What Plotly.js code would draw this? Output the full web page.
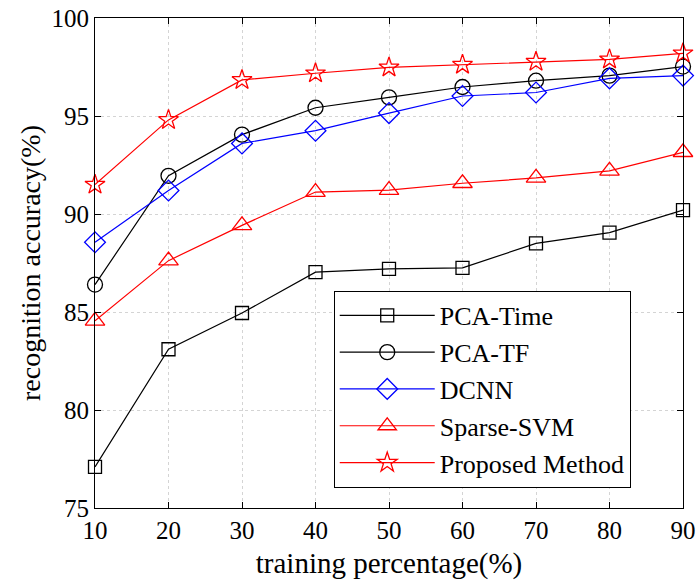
<!DOCTYPE html>
<html>
<head>
<meta charset="utf-8">
<script src="https://cdn.plot.ly/plotly-3.0.1.min.js"></script>
<style>html,body{margin:0;padding:0;background:#fff;}#chart{width:697px;height:580px;}</style>
</head>
<body>
<div id="chart"></div>
<script>
const trainingPct = [10, 20, 30, 40, 50, 60, 70, 80, 90];
const pcaTime   = [77.1, 83.1, 84.95, 87.03, 87.2, 87.25, 88.5, 89.05, 90.2];
const pcaTF     = [86.4, 91.95, 94.05, 95.42, 95.95, 96.48, 96.8, 97.06, 97.52];
const dcnn      = [88.56, 91.2, 93.6, 94.25, 95.15, 96.02, 96.2, 96.92, 97.06];
const sparseSVM = [84.55, 87.62, 89.42, 91.12, 91.22, 91.57, 91.84, 92.2, 93.15];
const proposed  = [91.5, 94.8, 96.84, 97.18, 97.48, 97.62, 97.77, 97.89, 98.2];
const seriesNames = ["PCA-Time", "PCA-TF", "DCNN", "Sparse-SVM", "Proposed Method"];
const xTicks = [10, 20, 30, 40, 50, 60, 70, 80, 90];
const yTicks = [75, 80, 85, 90, 95, 100];

const mk = (y, name, color, symbol, size) => ({
  x: trainingPct, y: y, name: name, type: 'scatter', mode: 'lines+markers',
  cliponaxis: false,
  line: {color: color, width: 1.2},
  marker: {symbol: symbol, size: size, color: color, line: {color: color, width: 1.3}}
});

const data = [
  mk(pcaTime, seriesNames[0], '#000000', 'square-open', 13),
  mk(pcaTF, seriesNames[1], '#000000', 'circle-open', 15),
  mk(dcnn, seriesNames[2], '#0000ff', 'diamond-open', 16),
  mk(sparseSVM, seriesNames[3], '#ff0000', 'triangle-up-open', 17),
  mk(proposed, seriesNames[4], '#ff0000', 'star-open', 15)
];

const font = {family: '"Liberation Serif", "Times New Roman", serif', color: '#000'};
const axisCommon = {
  showline: true, linecolor: '#000', linewidth: 1, mirror: 'ticks',
  ticks: 'inside', ticklen: 6, tickcolor: '#000', tickwidth: 1,
  showgrid: true, gridcolor: '#d4d4d4', griddash: 'dot', gridwidth: 1,
  zeroline: false, tickfont: Object.assign({size: 25}, font)
};

const layout = {
  width: 697, height: 580,
  margin: {l: 95, r: 14, t: 18, b: 72},
  paper_bgcolor: '#fff', plot_bgcolor: '#fff',
  font: font,
  showlegend: true,
  legend: {
    x: 0.406, y: 0.443, xanchor: 'left', yanchor: 'top',
    bgcolor: '#fff', bordercolor: '#000', borderwidth: 1,
    font: Object.assign({size: 26}, font),
    itemwidth: 95,
    tracegroupgap: 0
  },
  xaxis: Object.assign({}, axisCommon, {
    range: [10, 90], tickvals: xTicks, ticktext: xTicks.map(String),
    title: {text: 'training percentage(%)', font: Object.assign({size: 29}, font), standoff: 9},
    automargin: false
  }),
  yaxis: Object.assign({}, axisCommon, {
    range: [75, 100], tickvals: yTicks, ticktext: yTicks.map(String),
    title: {text: 'recognition accuracy(%)', font: Object.assign({size: 28}, font), standoff: 2},
    automargin: false
  })
};

Plotly.newPlot('chart', data, layout, {displayModeBar: false, staticPlot: true});
</script>
</body>
</html>
